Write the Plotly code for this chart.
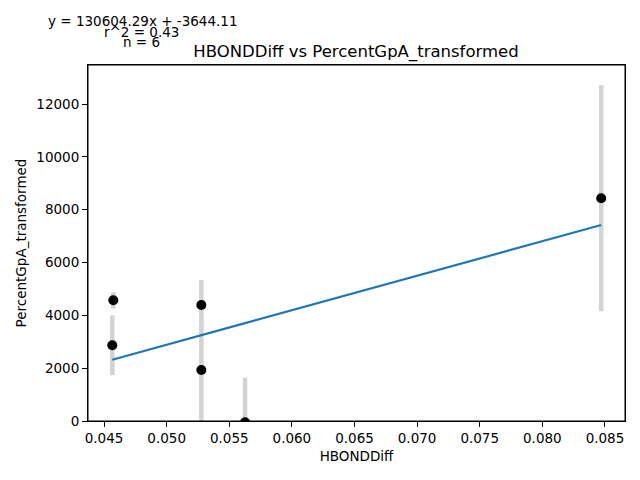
import plotly.graph_objects as go

# Data
hbond_diff = [0.04574, 0.04566, 0.05277, 0.05277, 0.05626, 0.08470]
percent_gpa = [4569, 2866, 4391, 1931, -50, 8431]
error = [310, 1130, 947, 2100, 1690, 4280]
slope = 130604.29
intercept = -3644.11
r_squared = 0.43
n_points = 6

x_ticks = [0.045, 0.050, 0.055, 0.060, 0.065, 0.070, 0.075, 0.080, 0.085]
y_ticks = [0, 2000, 4000, 6000, 8000, 10000, 12000]

xs_sorted = sorted(hbond_diff)
fit_y = [slope * x + intercept for x in xs_sorted]

font = "DejaVu Sans"
fig = go.Figure()
fig.add_trace(go.Scatter(
    x=hbond_diff, y=percent_gpa, mode="markers",
    marker=dict(color="black", size=10),
    error_y=dict(type="data", array=error, visible=True, color="#d3d3d3", thickness=4.5, width=0),
    cliponaxis=True,
))
fig.add_trace(go.Scatter(
    x=xs_sorted, y=fit_y, mode="lines",
    line=dict(color="#1f77b4", width=2.2),
))

axis_common = dict(
    showgrid=False, zeroline=False, showline=True, linecolor="black", linewidth=1,
    mirror=True, ticks="outside", ticklen=5, tickcolor="black",
    tickfont=dict(family=font, size=13.5, color="black"),
)
fig.update_xaxes(range=[0.04372, 0.08660], tickvals=x_ticks,
                 ticktext=[f"{v:.3f}" for v in x_ticks],
                 title=dict(text="HBONDDiff", font=dict(family=font, size=13.5, color="black"), standoff=6),
                 **axis_common)
fig.update_yaxes(range=[0, 13477], tickvals=y_ticks,
                 ticktext=[str(v) for v in y_ticks],
                 title=dict(text="PercentGpA_transformed", font=dict(family=font, size=13.5, color="black"), standoff=6),
                 **axis_common)

ann_font = dict(family=font, size=13.5, color="black")
fig.update_layout(
    width=640, height=480,
    margin=dict(l=88, r=15, t=65, b=59),
    plot_bgcolor="white", paper_bgcolor="white",
    showlegend=False,
    shapes=[dict(type="rect", xref="paper", yref="paper", x0=0, x1=1, y0=0, y1=1,
                 line=dict(color="black", width=1), layer="above")],
    title=dict(text="HBONDDiff vs PercentGpA_transformed", x=(356) / 640, xanchor="center",
               y=1 - 51 / 480, yanchor="middle", font=dict(family=font, size=16.5, color="black")),
    annotations=[
        dict(text=f"y = {slope:.2f}x + {intercept:.2f}", xref="paper", yref="paper",
             x=(142 - 88) / 537, y=(421 - 21) / 356, xanchor="center", yanchor="middle",
             showarrow=False, font=ann_font),
        dict(text=f"r^2 = {r_squared:.2f}", xref="paper", yref="paper",
             x=(141 - 88) / 537, y=(421 - 32) / 356, xanchor="center", yanchor="middle",
             showarrow=False, font=ann_font),
        dict(text=f"n = {n_points}", xref="paper", yref="paper",
             x=(141 - 88) / 537, y=(421 - 42) / 356, xanchor="center", yanchor="middle",
             showarrow=False, font=ann_font),
    ],
)
fig.write_html("out.html", config={"displayModeBar": False},
               post_script="document.body.style.margin='0';document.body.style.overflow='hidden';")
